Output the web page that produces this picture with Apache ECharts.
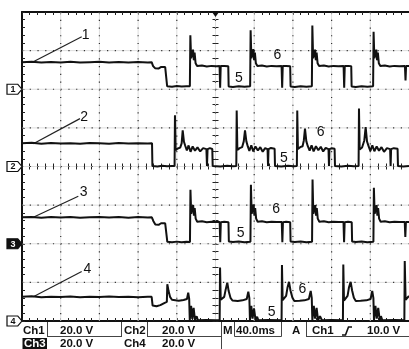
<!DOCTYPE html>
<html><head><meta charset="utf-8">
<script src="https://cdn.jsdelivr.net/npm/echarts@6/dist/echarts.min.js"></script>
<style>html,body{margin:0;padding:0;background:#fff;}#c{width:409px;height:349px;}</style>
</head><body><div id="c"></div>
<script>
// time axis: 40 ms/div, trigger at centre; each channel 20 V/div
const timeMin = -200, timeMax = 200, timeStep = 40;
const gridTimes = [-160, -120, -80, -40, 0, 40, 80, 120, 160];
const gridLevels = [20, 40, 60, 80, 100, 120, 140];
const channelNames = ['1', '2', '3', '4'];
const channelScale = ['20.0 V', '20.0 V', '20.0 V', '20.0 V'];
const timebase = '40.0ms';
const triggerInfo = ['Ch1', '10.0 V'];

const ch1 = [[-200,14.0],[-190,14.3],[-180,13.8],[-170,14.1],[-160,13.9],[-150,14.2],[-140,13.8],[-130,14.0],[-120,14.2],[-110,13.9],[-100,14.1],[-90,13.8],[-80,14.1],[-70,13.9],[-66,14.0],
[-64.5,12.0],[-62.5,10.9],[-59,10.7],[-56.5,11.5],[-52,11.5],[-50.5,11.0],[-50,1.6],[-45,1.3],[-40,1.7],[-35,1.4],[-30,1.6],[-26.5,1.5],
[-26,28.0],[-25.2,16.0],[-24.2,17.0],[-23.2,20.5],[-22.4,15.0],[-21.6,19.0],[-20.6,13.5],[-19,12.0],[-14,12.3],[-9,11.8],[-4,12.1],[1,11.9],[4.2,12.0],[4.8,0.8],[5.4,12.0],[9,12.1],[13.2,11.9],
[13.6,1.4],[18,1.2],[24,1.6],[30,1.3],[35.8,1.5],
[36.3,30.6],[37.1,16.0],[38.1,17.0],[39.1,20.8],[39.9,15.0],[40.7,19.0],[41.7,13.5],[43.3,12.0],[48,12.3],[53,11.8],[58,12.1],[63,11.9],[68.3,12.0],[68.9,0.8],[69.5,12.0],[73,12.1],[77.2,11.9],
[77.6,1.4],[82,1.2],[88,1.6],[94,1.3],[99.6,1.5],
[100.1,33.0],[100.9,16.0],[101.9,17.0],[102.9,20.5],[103.7,15.0],[104.5,19.0],[105.5,13.5],[107.1,12.0],[112,12.3],[117,11.8],[122,12.1],[127,11.9],[132.4,12.0],[133,0.8],[133.6,12.0],[137,12.1],[140.3,11.9],
[140.7,1.4],[145,1.2],[151,1.6],[157,1.3],[162.9,1.5],
[163.4,29.8],[164.2,16.0],[165.2,17.0],[166.2,20.5],[167,15.0],[167.8,19.0],[168.8,13.5],[170.4,12.0],[175,12.3],[180,11.8],[185,12.1],[190,11.9],[195.8,12.0],[196.4,4.5],[197,12.0],[200,12.0]];

const ch2 = [[-200,12.0],[-190,12.3],[-180,11.8],[-170,12.2],[-160,11.9],[-150,12.1],[-140,11.8],[-130,12.2],[-120,12.0],[-110,11.8],[-100,12.2],[-90,11.9],[-80,12.1],[-70,11.9],[-65.6,12.0],
[-65.2,0.2],[-60,0.0],[-55,0.4],[-50,0.1],[-45,0.3],[-42.3,0.2],
[-41.9,26.5],[-41.2,8.5],[-39,9.3],[-36.5,9.8],[-35,12],[-33.9,18.7],[-32.6,12.8],[-31.2,10.6],[-29.6,8.3],[-27.8,10.9],[-25.8,7.6],[-23.6,10.4],[-21.2,8.2],[-18.6,9.9],[-15.8,7.8],[-12.8,9.5],[-9.4,9.0],[-8.8,0.3],[-8.2,9.0],[-5.8,9.5],[-3.3,9.1],
[-2.9,0.2],[5,0.0],[12,0.4],[18,0.1],[21.5,0.2],
[21.9,29.0],[22.6,8.6],[25,9.5],[27.5,10],[29.2,13],[30.5,18.7],[31.9,13.0],[33.4,10.4],[35,8.0],[37,11.0],[39,7.8],[41.3,10.4],[43.8,8.3],[46.3,10.0],[48.8,7.6],[51.3,9.5],[53.8,9.0],[54.3,0.3],[54.8,9.0],[57.3,9.6],[61.1,9.2],
[61.5,0.2],[68,0.0],[75,0.4],[81,0.1],[84.1,0.2],
[84.5,29.0],[85.2,9.0],[87.5,10.0],[90,10.5],[91.3,13.5],[92.5,19.6],[93.9,13.0],[95.4,10.5],[97.3,8.2],[99.3,11.0],[101.4,7.8],[103.8,10.5],[106.3,8.4],[108.8,10.2],[111.3,7.8],[113.9,9.6],[116.8,9.0],[117.3,0.3],[117.8,9.0],[120.2,9.5],[123.1,9.2],
[123.5,0.2],[130,0.0],[137,0.4],[143,0.1],[147.9,0.2],
[148.3,30.0],[149,8.8],[151.5,9.8],[153.8,13.5],[155.2,20.4],[156.6,13.0],[158.2,10.5],[160.1,8.0],[162.1,11.0],[164.2,7.9],[166.6,10.4],[169,8.2],[171.6,10.0],[174.2,7.6],[177.2,9.5],[180.5,9.0],[181,0.3],[181.5,9.0],[184.3,9.5],[188.2,9.2],
[188.6,0.2],[194,0.0],[200,0.3]];

const ch3 = [[-200,13.7],[-190,13.9],[-180,13.5],[-170,13.8],[-160,13.6],[-150,13.9],[-140,13.5],[-130,13.7],[-120,13.9],[-110,13.6],[-100,13.8],[-90,13.5],[-80,13.8],[-70,13.6],[-65.8,13.7],
[-64.3,11.8],[-62.2,10.0],[-58.8,9.8],[-56.3,10.6],[-52,10.6],[-50.3,10.2],[-49.8,1.0],[-45,0.8],[-40,1.1],[-35,0.8],[-30,1.0],[-26.4,0.9],
[-25.9,28.0],[-25.1,15.5],[-24.1,16.5],[-23.1,20.0],[-22.3,14.5],[-21.5,18.5],[-20.5,13.0],[-18.9,11.4],[-14,11.6],[-9,11.1],[-4,11.4],[1,11.2],[4.3,11.2],[4.9,0.8],[5.5,11.2],[9,11.4],[13.4,11.1],
[13.8,1.2],[18,0.9],[24,1.2],[30,0.8],[36.1,1.0],
[36.6,30.6],[37.4,15.5],[38.4,16.5],[39.4,20.4],[40.2,14.5],[41,18.5],[42,13.0],[43.6,11.4],[48,11.6],[53,11.1],[58,11.4],[63,11.2],[68.5,11.2],[69.1,0.8],[69.7,11.2],[73,11.4],[77.2,11.1],
[77.6,1.2],[82,0.9],[88,1.2],[94,0.8],[99.8,1.0],
[100.3,33.2],[101.1,15.5],[102.1,16.5],[103.1,20.0],[103.9,14.5],[104.7,18.5],[105.7,13.0],[107.3,11.4],[112,11.6],[117,11.1],[122,11.4],[127,11.2],[132.3,11.2],[132.9,0.8],[133.5,11.2],[137,11.4],[140.8,11.1],
[141.2,1.2],[145,0.9],[151,1.2],[157,0.8],[163.2,1.0],
[163.7,29.0],[164.5,15.5],[165.5,16.5],[166.5,20.0],[167.3,14.5],[168.1,18.5],[169.1,13.0],[170.7,11.4],[175,11.6],[180,11.1],[185,11.4],[190,11.2],[195.6,11.2],[196.2,3.5],[196.8,11.2],[200,11.2]];

const ch4 = [[-200,12.5],[-190,12.8],[-180,12.3],[-170,12.6],[-160,12.4],[-150,12.7],[-140,12.3],[-130,12.6],[-120,12.4],[-110,12.7],[-100,12.4],[-90,12.6],[-80,12.3],[-70,12.5],[-66,12.5],
[-65,8.0],[-61,7.6],[-57,8.2],[-53,9.3],[-50.3,9.9],
[-49.8,19.0],[-48.5,15.5],[-47,12.5],[-45,11.0],[-43.5,10.4],[-38,10.5],[-33,10.9],[-29.5,11.4],[-28.2,14.7],[-27.2,11.5],[-26.6,0.5],[-25.2,7.8],[-24,1.0],[-22.6,6.8],[-21.2,0.4],[-19.5,2.5],[-18.2,0.4],[-10,0.5],[0,0.4],[4.3,0.5],
[4.7,27.7],[5.4,11.0],[7,10.8],[9,12.5],[10.6,16.5],[12.2,19.8],[13.6,15.5],[15.5,12.0],[17.5,10.6],[23,10.4],[28,10.7],[32.3,11.4],[33.9,15.2],[35,11.8],[35.6,0.5],[37,7.8],[38.3,1.2],[39.8,6.5],[41.4,0.4],[43,2.2],[44.3,0.4],[55,0.5],[68.3,0.4],
[68.7,29.0],[69.4,10.8],[71,11.0],[73,13],[74.5,17.5],[76,20.3],[77.5,15.8],[79.5,12.0],[81.5,10.4],[87,10.5],[92,10.7],[96.5,11.4],[98.4,15.6],[99.5,11.8],[100.1,0.5],[101.6,7.8],[103,1.2],[104.5,6.8],[106,0.4],[108,2.5],[110,0.4],[120,0.5],[131.7,0.4],
[132.1,29.3],[132.8,10.6],[134.5,11.0],[136.5,13],[138,17.5],[139.7,20.3],[141.2,15.8],[143,12.0],[145,10.4],[150,10.5],[156,10.7],[160.3,11.4],[162,15.6],[163.2,11.8],[163.8,0.5],[165.3,7.8],[166.7,1.2],[168.2,6.8],[169.8,0.4],[171,2.5],[172.4,0.4],[185,0.5],[195.2,0.4],
[195.6,31.0],[196.5,11.0],[198.5,11.2],[200,13.0]];

// annotation anchors in (ms, V) of each channel
const leaderLines = [
  [[-188.3,14.2],[-138.3,27.2]],
  [[-188.3,11.8],[-140.1,24.8]],
  [[-188.3,13.7],[-141.8,24.6]],
  [[-188.3,12.6],[-138.3,25.6]]
];
const tagPos = [[-134.1,28.1],[-135.7,25.5],[-136.2,26.5],[-132.3,26.9]];
const fivePos = [[24.3,5.6],[70.8,4.5],[26.0,5.6],[58.1,4.8]];
const sixPos = [[63.9,17.7],[108.7,17.8],[62.8,17.7],[89.7,16.5]];

const traces = [ch1, ch2, ch3, ch4];
const traceAxis = [1, 2, 3, 0];

const chart = echarts.init(document.getElementById('c'), null, {renderer: 'canvas'});
const FONT = '"Liberation Sans", Arial, sans-serif';
const tickStyle = {color: '#222', width: 1};

function frameX(pos) {
  return {type: 'value', min: timeMin, max: timeMax, interval: timeStep, position: pos,
    axisLine: {show: true, onZero: false, lineStyle: {color: '#111', width: 2}},
    axisTick: {show: true, inside: true, length: 3, lineStyle: tickStyle},
    minorTick: {show: true, splitNumber: 5, length: 3, lineStyle: tickStyle},
    axisLabel: {show: false}, splitLine: {show: false}};
}
function crossX(inside) {
  return {type: 'value', min: timeMin, max: timeMax, interval: timeStep, position: 'bottom',
    axisLine: {show: true, onZero: true, onZeroAxisIndex: 2, lineStyle: {color: '#666', width: 1, type: [1, 2.87]}},
    axisTick: {show: true, inside: inside, length: 3, lineStyle: tickStyle},
    minorTick: {show: true, splitNumber: 5, length: 3, lineStyle: tickStyle},
    axisLabel: {show: false}, splitLine: {show: false}};
}
function crossY(inside) {
  return {type: 'value', min: 0, max: 160, interval: 20, position: 'left',
    axisLine: {show: true, onZero: true, onZeroAxisIndex: 0, lineStyle: {color: '#666', width: 1, type: [1, 2.87]}},
    axisTick: {show: true, inside: inside, length: 3, lineStyle: tickStyle},
    minorTick: {show: true, splitNumber: 5, length: 3, lineStyle: tickStyle},
    axisLabel: {show: false}, splitLine: {show: false}};
}

// horizontal graticule lines (line series: these render reliably)
function hGrid(v, dotted) {
  return {type: 'line', data: [[timeMin, v], [timeMax, v]], xAxisIndex: 0, yAxisIndex: 0, showSymbol: false, symbol: 'none',
    silent: true, animation: false, z: 1, clip: false,
    lineStyle: dotted ? {color: '#333', width: 1.2, type: [1.2, 6.53]} : {color: '#dedede', width: 1, type: 'solid'}};
}
const graticule = [];
[false, true].forEach(dt => gridLevels.forEach(v => graticule.push(hGrid(v, dt))));

// vertical graticule lines through a custom series placed by the axes
graticule.push({
  type: 'custom', xAxisIndex: 0, yAxisIndex: 0, silent: true, animation: false, z: 1, clip: false,
  data: gridTimes.map(t => [t, 0]),
  encode: {x: 0, y: 1},
  renderItem: function (params, api) {
    const t = api.value(0);
    const p1 = api.coord([t, 0]);
    const p2 = api.coord([t, 160]);
    return {type: 'group', children: [
      {type: 'line', shape: {x1: p1[0], y1: p2[1], x2: p1[0], y2: p1[1]}, style: {stroke: '#dedede', lineWidth: 1}},
      {type: 'line', shape: {x1: p1[0], y1: p2[1], x2: p1[0], y2: p1[1]}, style: {stroke: '#333', lineWidth: 1.2, lineDash: [1.2, 6.52]}}
    ]};
  }
});

const series = traces.map((d, i) => {
  const inv = i === 2;
  const mp = [
    {coord: [timeMin, 0], symbol: 'path://M0,0 L10,0 L14,5 L10,10 L0,10 Z', symbolSize: [15, 10], symbolOffset: [-7.5, 0],
     itemStyle: {color: inv ? '#111' : '#fff', borderColor: '#111', borderWidth: 1},
     label: {show: true, position: 'inside', offset: [-1.5, 0.5], formatter: channelNames[i], fontSize: 9, fontWeight: 'bold', fontFamily: FONT, color: inv ? '#fff' : '#111'}},
    {coord: tagPos[i], symbol: 'rect', symbolSize: 1, itemStyle: {color: 'rgba(0,0,0,0)'},
     label: {show: true, position: 'inside', formatter: channelNames[i], fontSize: 14, fontFamily: FONT, color: '#111'}},
    {coord: fivePos[i], symbol: 'rect', symbolSize: 1, itemStyle: {color: 'rgba(0,0,0,0)'},
     label: {show: true, position: 'inside', formatter: '5', fontSize: 14, fontFamily: FONT, color: '#111'}},
    {coord: sixPos[i], symbol: 'rect', symbolSize: 1, itemStyle: {color: 'rgba(0,0,0,0)'},
     label: {show: true, position: 'inside', formatter: '6', fontSize: 14, fontFamily: FONT, color: '#111'}}
  ];
  if (i === 3) {
    mp.push({coord: [0, 160], symbol: 'path://M0,0 L10,0 L5,7 Z', symbolSize: [7, 5], symbolOffset: [0, 2.5],
      itemStyle: {color: '#111'}, label: {show: false}});
  }
  return {
    type: 'line', name: 'Ch' + channelNames[i], data: d, xAxisIndex: 0, yAxisIndex: traceAxis[i],
    showSymbol: false, symbol: 'none', sampling: null, smooth: false, clip: true,
    lineStyle: {color: '#111', width: 2}, animation: false, silent: true, z: 5,
    markLine: {silent: true, symbol: ['none', 'none'], animation: false,
      lineStyle: {color: '#222', width: 1.2, type: 'solid'}, label: {show: false},
      data: [[{coord: leaderLines[i][0]}, {coord: leaderLines[i][1]}]]},
    markPoint: {silent: true, animation: false, data: mp}
  };
});

function T(x, y, text, opts) {
  return Object.assign({type: 'text', x: x, y: y, silent: true,
    style: {text: text, font: 'bold 11.5px ' + FONT, fill: '#111', verticalAlign: 'middle'}}, opts || {});
}
function L(x1, y1, x2, y2) {
  return {type: 'line', silent: true, shape: {x1: x1, y1: y1, x2: x2, y2: y2}, style: {stroke: '#444', lineWidth: 1}};
}
const r1 = 331, r2 = 344;
const graphic = [
  T(23, r1, 'Ch1'), L(47.5, 322, 47.5, 337), L(47.5, 336.5, 121.5, 336.5), L(121.5, 322, 121.5, 337), T(60, r1, channelScale[0]),
  T(124, r1, 'Ch2'), L(147.5, 322, 147.5, 337), L(147.5, 336.5, 221.5, 336.5), L(221.5, 322, 221.5, 349), T(162, r1, channelScale[1]),
  T(223, r1, 'M'), L(234.5, 322, 234.5, 336.5), L(234.5, 336.5, 281.5, 336.5), L(281.5, 322, 281.5, 336.5), T(236, r1, timebase),
  T(292, r1, 'A'), L(306.5, 322, 306.5, 337), L(306.5, 336.5, 409, 336.5), T(312, r1, triggerInfo[0]),
  {type: 'polyline', silent: true, shape: {points: [[342, 335], [345.5, 335], [348.5, 327], [352, 327]]}, style: {stroke: '#111', lineWidth: 1.6, fill: null}},
  T(367, r1, triggerInfo[1]),
  {type: 'rect', silent: true, shape: {x: 22.5, y: 338, width: 24.5, height: 11}, style: {fill: '#111'}},
  T(24, r2, 'Ch3', {style: {text: 'Ch3', font: 'bold 11.5px ' + FONT, fill: '#fff', verticalAlign: 'middle'}}),
  T(60, r2, channelScale[2]), T(124, r2, 'Ch4'), T(162, r2, channelScale[3])
];

chart.setOption({
  animation: false,
  backgroundColor: '#fff',
  grid: {left: 22, right: 0, top: 12, bottom: 28, containLabel: false, outerBoundsMode: 'none'},
  xAxis: [frameX('bottom'), frameX('top'), crossX(true), crossX(false)],
  yAxis: [
    {type: 'value', min: 0, max: 160, interval: 20, position: 'left',
     axisLine: {show: true, onZero: false, lineStyle: {color: '#111', width: 2}},
     axisTick: {show: true, inside: true, length: 3, lineStyle: tickStyle},
     minorTick: {show: true, splitNumber: 5, length: 3, lineStyle: tickStyle},
     axisLabel: {show: false}, splitLine: {show: false}},
    {type: 'value', min: -120, max: 40, show: false, axisLine: {onZero: false}},
    {type: 'value', min: -80, max: 80, show: false, axisLine: {onZero: false}},
    {type: 'value', min: -40, max: 120, show: false, axisLine: {onZero: false}},
    crossY(true), crossY(false)
  ],
  series: graticule.concat(series),
  graphic: graphic
});
</script></body></html>
